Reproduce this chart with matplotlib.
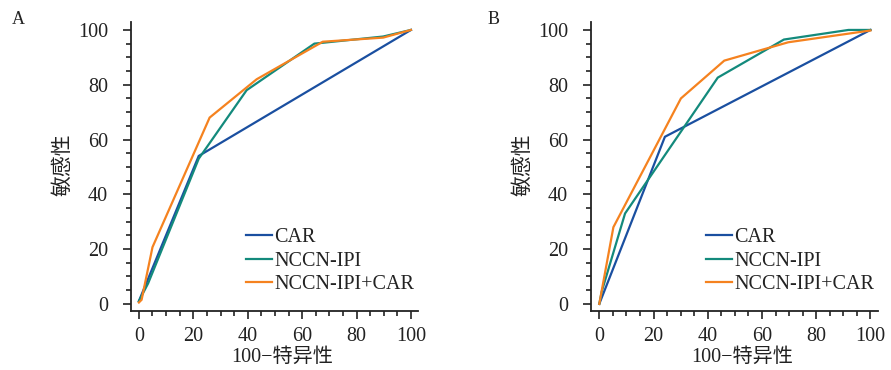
import matplotlib
matplotlib.use("Agg")
import matplotlib.pyplot as plt
from matplotlib.ticker import MultipleLocator

plt.rcParams['font.family'] = ['Liberation Serif', 'Noto Sans CJK SC']
plt.rcParams['axes.unicode_minus'] = True

series_names = ["CAR", "NCCN-IPI", "NCCN-IPI+CAR"]
colors = ["#1a4fa0", "#138a7c", "#f5821f"]

# Panel A
a_car_x = [0, 22, 100]
a_car_y = [1, 54, 100]
a_nccn_x = [0, 3.4, 22, 39.6, 64.5, 89.8, 100]
a_nccn_y = [1, 7.5, 53, 78, 95, 97.6, 100]
a_comb_x = [0, 1, 5, 26, 43.3, 67.6, 89.8, 100]
a_comb_y = [0.5, 1.5, 20.7, 68, 82, 95.7, 97.2, 100]

# Panel B
b_car_x = [0, 24.2, 100]
b_car_y = [0, 61, 100]
b_nccn_x = [0, 0.9, 9.5, 43.7, 68.1, 91.9, 100]
b_nccn_y = [0, 4.5, 33, 82.6, 96.5, 100, 100]
b_comb_x = [0, 5.2, 30.1, 46.1, 69.7, 100]
b_comb_y = [0, 28, 75, 88.8, 95.5, 99.8]

ticks = [0, 20, 40, 60, 80, 100]
xlabel = "100\u2212特异性"
ylabel = "敏感性"

W, H = 891, 370
fig = plt.figure(figsize=(W / 100, H / 100), dpi=100)

def make_ax(left_px, right_px, xlim, panel, panel_xy, leg_xy, data):
    bottom_px, top_px = 311, 22
    ax = fig.add_axes([left_px / W, 1 - bottom_px / H, (right_px - left_px) / W, (bottom_px - top_px) / H])
    for (x, y), c, n in zip(data, colors, series_names):
        ax.plot(x, y, color=c, lw=1.6, label=n, solid_joinstyle='miter')
    ax.set_xlim(*xlim)
    ax.set_ylim(-2.6, 102.9)
    for s in ['top', 'right']:
        ax.spines[s].set_visible(False)
    for s in ['left', 'bottom']:
        ax.spines[s].set_linewidth(1.3)
        ax.spines[s].set_color('#222222')
    ax.set_xticks(ticks)
    ax.set_yticks(ticks)
    ax.xaxis.set_minor_locator(MultipleLocator(5))
    ax.yaxis.set_minor_locator(MultipleLocator(5))
    ax.tick_params(which='major', length=5.5, width=1.2, labelsize=14.5, colors='#222222')
    ax.tick_params(which='minor', length=3.5, width=1.2, colors='#222222')
    ax.tick_params(axis='y', which='major', pad=11)
    ax.tick_params(axis='x', which='major', pad=6)
    ax.set_xlabel(xlabel, fontsize=14.5, color='#222222')
    ax.set_ylabel(ylabel, fontsize=15, color='#222222')
    ax.xaxis.set_label_coords((left_px + 151) / W, 1 - 357 / H, transform=fig.transFigure)
    ax.xaxis.label.set_va('center')
    ax.yaxis.set_label_coords((left_px - 68) / W, 1 - 165 / H, transform=fig.transFigure)
    ax.yaxis.label.set_va('center')
    fig.text(panel_xy[0] / W, 1 - panel_xy[1] / H, panel, fontsize=13, ha='center', va='center', color='#222222')
    leg = ax.legend(loc='upper left', bbox_to_anchor=(leg_xy[0] / W, 1 - leg_xy[1] / H),
                    bbox_transform=fig.transFigure, frameon=False, fontsize=14.5,
                    handlelength=1.3, handletextpad=0.12, labelspacing=0.22,
                    borderpad=0, borderaxespad=0)
    for t in leg.get_texts():
        t.set_color('#222222')
    return ax

make_ax(131, 418, (-2.9, 102.6), "A", (18, 19), (246, 228),
        [(a_car_x, a_car_y), (a_nccn_x, a_nccn_y), (a_comb_x, a_comb_y)])
make_ax(591, 878, (-3.06, 102.8), "B", (494, 19), (706, 228),
        [(b_car_x, b_car_y), (b_nccn_x, b_nccn_y), (b_comb_x, b_comb_y)])

fig.savefig("out.png", dpi=100)
